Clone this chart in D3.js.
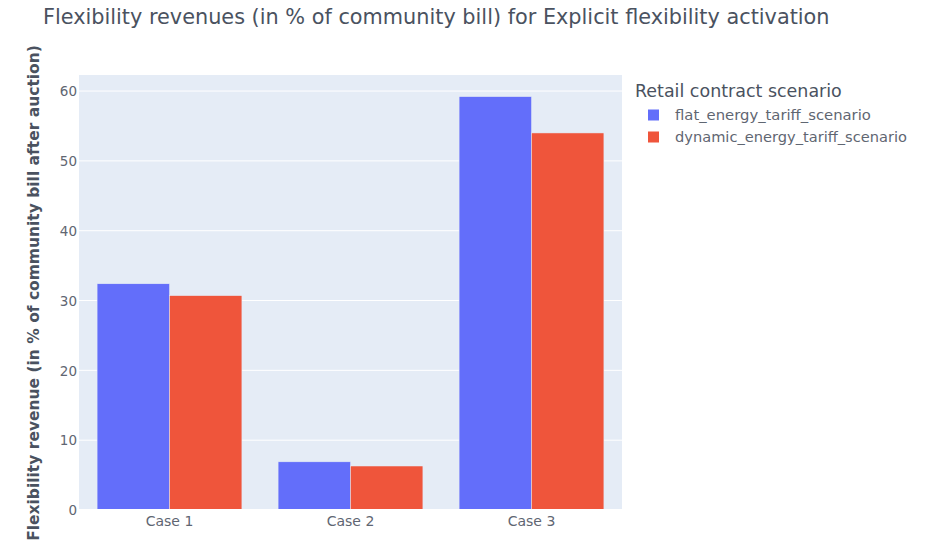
<!DOCTYPE html>
<html><head><meta charset="utf-8">
<script src="https://cdn.jsdelivr.net/npm/d3@7"></script>
<style>body{margin:0;background:#fff;} text{font-family:"DejaVu Sans",Verdana,sans-serif;}</style>
</head><body><svg id="c" width="938" height="543"></svg>
<script>
const categories = ["Case 1", "Case 2", "Case 3"];
const seriesNames = ["flat_energy_tariff_scenario", "dynamic_energy_tariff_scenario"];
const flatValues = [32.4, 6.9, 59.2];
const dynamicValues = [30.7, 6.3, 54.0];
const yTicks = [0, 10, 20, 30, 40, 50, 60];
const colors = ["#636efa", "#ef553b"];

const svg = d3.select("#c");
const m = {l: 79, t: 75, r: 622, b: 510};
const x = d3.scaleBand().domain(categories).range([m.l, m.r]).paddingInner(0.2).paddingOuter(0.1);
const xs = d3.scaleBand().domain(seriesNames).range([0, x.bandwidth()]);
const y = d3.scaleLinear().domain([0, 62.3]).range([m.b, m.t]);

function fit(sel, w) {
  const fs = +sel.attr("font-size");
  const cur = sel.node().getComputedTextLength();
  sel.attr("font-size", fs * w / cur);
  return sel;
}

svg.append("rect").attr("x", m.l).attr("y", m.t).attr("width", m.r - m.l).attr("height", m.b - m.t).attr("fill", "#e5ecf6");
svg.append("g").selectAll("line").data(yTicks.filter(d => d > 0)).join("line")
  .attr("x1", m.l).attr("x2", m.r).attr("y1", d => y(d)).attr("y2", d => y(d))
  .attr("stroke", "#fff").attr("stroke-width", 1);

const series = [flatValues, dynamicValues];
series.forEach((vals, si) => {
  svg.append("g").selectAll("rect").data(categories).join("rect")
    .attr("x", c => x(c) + xs(seriesNames[si]))
    .attr("y", (c, i) => y(vals[i]))
    .attr("width", xs.bandwidth())
    .attr("height", (c, i) => y(0) - y(vals[i]))
    .attr("fill", colors[si]).attr("stroke", "#e5ecf6").attr("stroke-width", 0.5);
});

svg.append("line").attr("x1", m.l).attr("x2", m.r).attr("y1", y(0)).attr("y2", y(0)).attr("stroke", "#fff").attr("stroke-width", 2);

const yAxis = d3.axisLeft(y).tickValues(yTicks).tickSize(0).tickPadding(0);
const gy = svg.append("g").attr("transform", `translate(${m.l - 2},0)`).call(yAxis);
gy.select(".domain").remove();
gy.selectAll("text").attr("fill", "#5f6672").attr("font-size", 13.5).attr("dy", "0.35em").attr("x", 0)
  .attr("font-family", "DejaVu Sans");

const xAxis = d3.axisBottom(x).tickSize(0).tickPadding(0);
const gx = svg.append("g").attr("transform", `translate(0,${m.b})`).call(xAxis);
gx.select(".domain").remove();
gx.selectAll("text").attr("fill", "#5f6672").attr("font-size", 14).attr("dy", 0).attr("y", 16)
  .attr("font-family", "DejaVu Sans");

const title = svg.append("text").attr("x", 43).attr("y", 24).attr("font-size", 18).attr("fill", "#4a5260")
  .text("Flexibility revenues (in % of community bill) for Explicit flexibility activation");
fit(title, 787);

const yt = svg.append("text").attr("transform", `translate(39,${293}) rotate(-90)`)
  .attr("text-anchor", "middle").attr("font-size", 14).attr("fill", "#4a5260").attr("font-weight", "bold")
  .text("Flexibility revenue (in % of community bill after auction)");
fit(yt, 496);

const lg = svg.append("g");
const lt = lg.append("text").attr("x", 635).attr("y", 97).attr("font-size", 15).attr("fill", "#4a5260").text("Retail contract scenario");
fit(lt, 207);
const itemW = [196, 232];
seriesNames.forEach((n, i) => {
  const yy = 115 + i * 22;
  lg.append("rect").attr("x", 648).attr("y", yy - 5.5).attr("width", 11).attr("height", 11).attr("fill", colors[i]);
  const t = lg.append("text").attr("x", 675).attr("y", yy + 5).attr("font-size", 13).attr("fill", "#5f6672").text(n);
  fit(t, itemW[i]);
});
</script></body></html>
